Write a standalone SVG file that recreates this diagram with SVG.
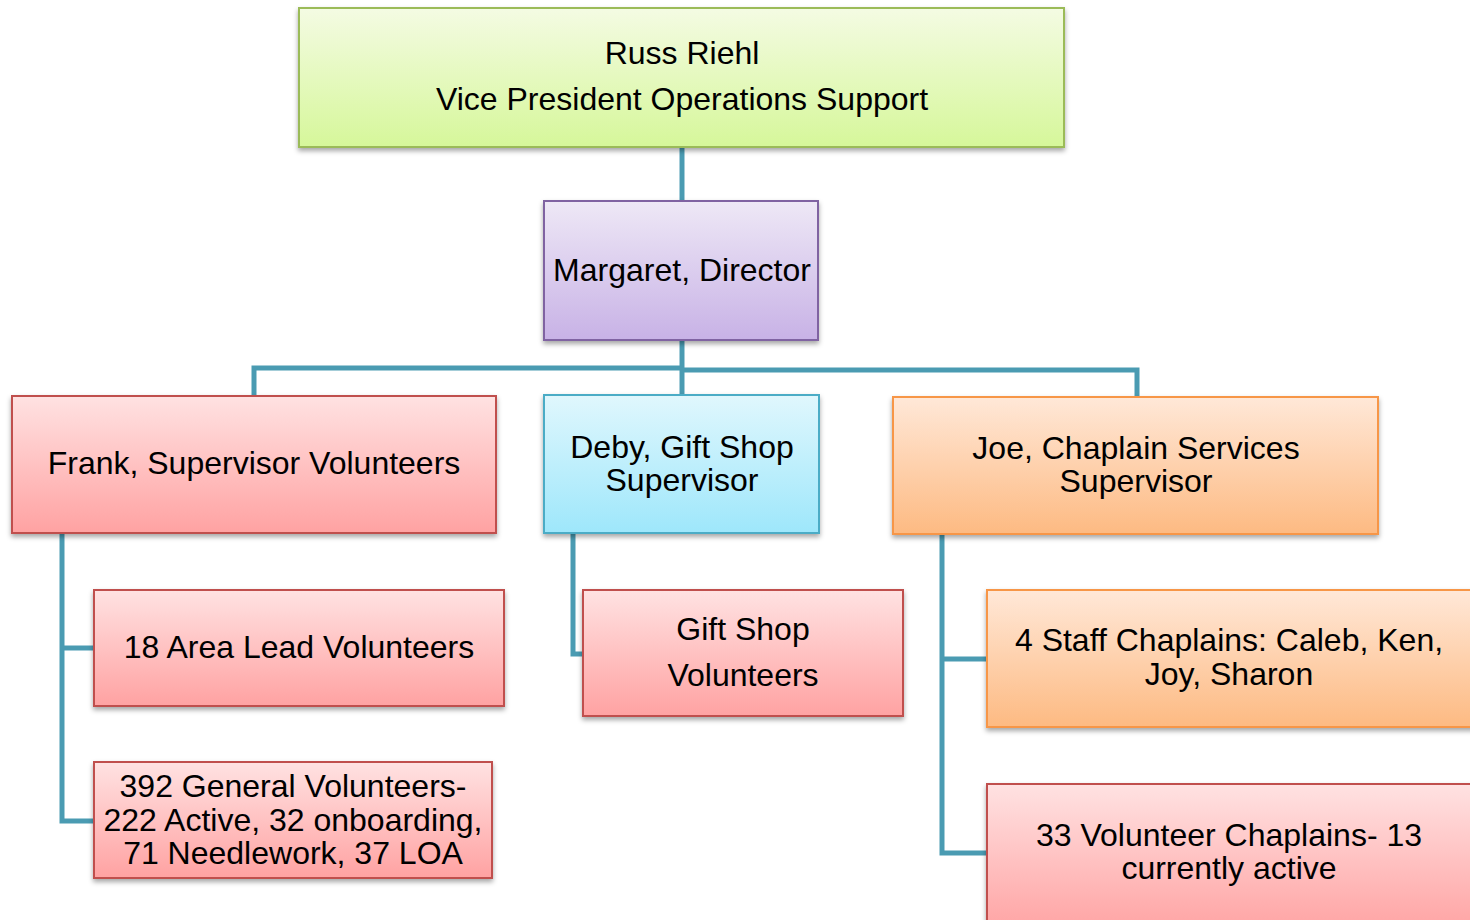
<svg xmlns="http://www.w3.org/2000/svg" width="1470" height="920" viewBox="0 0 1470 920">
<defs>
<linearGradient id="gGreen" x1="0" y1="0" x2="0" y2="1"><stop offset="0" stop-color="#f4fbe3"/><stop offset="1" stop-color="#d6f79a"/></linearGradient>
<linearGradient id="gPurple" x1="0" y1="0" x2="0" y2="1"><stop offset="0" stop-color="#eee8f6"/><stop offset="1" stop-color="#c8b2e6"/></linearGradient>
<linearGradient id="gRed" x1="0" y1="0" x2="0" y2="1"><stop offset="0" stop-color="#ffe2e2"/><stop offset="1" stop-color="#ffa2a2"/></linearGradient>
<linearGradient id="gBlue" x1="0" y1="0" x2="0" y2="1"><stop offset="0" stop-color="#e0f7fd"/><stop offset="1" stop-color="#9ee7fb"/></linearGradient>
<linearGradient id="gOrange" x1="0" y1="0" x2="0" y2="1"><stop offset="0" stop-color="#ffe8d8"/><stop offset="1" stop-color="#fdba82"/></linearGradient>
<filter id="sh" x="-5%" y="-5%" width="110%" height="120%"><feDropShadow dx="0" dy="3" stdDeviation="2.5" flood-color="#000" flood-opacity="0.35"/></filter>
</defs>
<style>
.box{filter:url(#sh);stroke-width:2}
.green{fill:url(#gGreen);stroke:#9bbb59}
.purple{fill:url(#gPurple);stroke:#8064a2}
.red{fill:url(#gRed);stroke:#c0504d}
.blue{fill:url(#gBlue);stroke:#4bacc6}
.orange{fill:url(#gOrange);stroke:#f79646}
text{font-family:"Liberation Sans",Arial,sans-serif;font-size:32px;fill:#000;text-anchor:middle}
.conn{fill:none;stroke:#4a9bb2;stroke-width:5}
</style>
<g id="connectors">
<path class="conn" d="M682 147V201"/>
<path class="conn" d="M682 340V395"/>
<path class="conn" d="M254 396V368H682"/>
<path class="conn" d="M682 370H1137V397"/>
<path class="conn" d="M62 533V821H94"/>
<path class="conn" d="M62 648H94"/>
<path class="conn" d="M573 533V654H583"/>
<path class="conn" d="M942 534V853H987"/>
<path class="conn" d="M942 659H987"/>
</g>
<g id="russ">
<rect class="box green" x="299" y="8" width="765" height="139"/>
<text x="682" y="64">Russ Riehl</text>
<text x="682" y="110">Vice President Operations Support</text>
</g>
<g id="margaret">
<rect class="box purple" x="544" y="201" width="274" height="139"/>
<text x="682" y="281">Margaret, Director</text>
</g>
<g id="frank">
<rect class="box red" x="12" y="396" width="484" height="137"/>
<text x="254" y="474">Frank, Supervisor Volunteers</text>
</g>
<g id="deby">
<rect class="box blue" x="544" y="395" width="275" height="138"/>
<text x="682" y="458">Deby, Gift Shop</text>
<text x="682" y="491">Supervisor</text>
</g>
<g id="joe">
<rect class="box orange" x="893" y="397" width="485" height="137"/>
<text x="1136" y="459">Joe, Chaplain Services</text>
<text x="1136" y="492">Supervisor</text>
</g>
<g id="arealead">
<rect class="box red" x="94" y="590" width="410" height="116"/>
<text x="299" y="658">18 Area Lead Volunteers</text>
</g>
<g id="general">
<rect class="box red" x="94" y="762" width="398" height="116"/>
<text x="293" y="797">392 General Volunteers-</text>
<text x="293" y="831">222 Active, 32 onboarding,</text>
<text x="293" y="864">71 Needlework, 37 LOA</text>
</g>
<g id="giftshop">
<rect class="box red" x="583" y="590" width="320" height="126"/>
<text x="743" y="640">Gift Shop</text>
<text x="743" y="686">Volunteers</text>
</g>
<g id="staffchaplains">
<rect class="box orange" x="987" y="590" width="500" height="137"/>
<text x="1229" y="651">4 Staff Chaplains: Caleb, Ken,</text>
<text x="1229" y="685">Joy, Sharon</text>
</g>
<g id="volchaplains">
<rect class="box red" x="987" y="784" width="500" height="150"/>
<text x="1229" y="846">33 Volunteer Chaplains- 13</text>
<text x="1229" y="879">currently active</text>
</g>
</svg>
